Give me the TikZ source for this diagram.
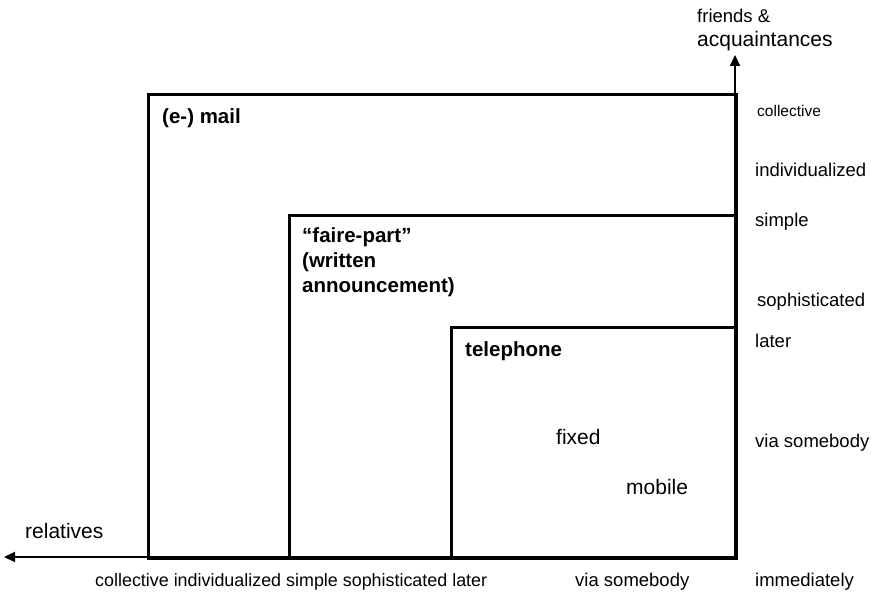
\documentclass[tikz,border=0pt]{standalone}
\usepackage{fontspec}
\setmainfont{Liberation Sans}
\usetikzlibrary{arrows.meta}
\begin{document}
\begin{tikzpicture}[x=1pt,y=-1pt,
  box/.style={draw, line width=3pt, inner sep=0pt, anchor=north west},
  axis/.style={line width=2pt, -{Triangle[length=11pt,width=10pt]}},
  lab/.style={inner sep=0pt, anchor=west, font=\fontsize{18.5}{22}\selectfont},
  botlab/.style={inner sep=0pt, anchor=west, font=\fontsize{17.9}{22}\selectfont},
  biglab/.style={inner sep=0pt, anchor=west, font=\fontsize{21}{25}\selectfont},
  smalllab/.style={inner sep=0pt, anchor=west, font=\fontsize{15.5}{19}\selectfont},
  title/.style={inner sep=0pt, anchor=north west, align=left, font=\bfseries\fontsize{20.5}{25}\selectfont}]
\useasboundingbox (0,0) rectangle (871,596);
% boxes
\node[box, minimum width=588pt, minimum height=464pt] (mail) at (147,93) {};
\node[box, minimum width=447pt, minimum height=343pt] (fp) at (288,214) {};
\node[box, minimum width=285pt, minimum height=231pt] (tel) at (450,326) {};
% axes
\coordinate (o) at (735,557);
\coordinate (top) at (735,55);
\coordinate (left) at (4,557);
\draw[axis] (o) -- (top);
\draw[axis] (o) -- (left);
% box titles
\node[title] (tmail) at (162,108) {(e-) mail};
\node[title] (tfp) at (302,227) {“faire-part”\\(written\\announcement)};
\node[title] (ttel) at (465,341) {telephone};
\node[biglab] (fixed) at (556,437) {fixed};
\node[biglab] (mobile) at (626,487) {mobile};
% axis titles
\node[lab] (friends) at (697,16) {friends \&};
\node[biglab] (acq) at (697,41) {acquaintances};
\node[biglab] (rel) at (25,531) {relatives};
% right labels
\node[smalllab] (r1) at (757,111) {collective};
\node[lab] (r2) at (755,170) {individualized};
\node[lab] (r3) at (755,222) {simple};
\node[lab] (r4) at (757,302) {sophisticated};
\node[lab] (r5) at (755,341) {later};
\node[lab] (r6) at (755,443) {via somebody};
% bottom labels
\node[botlab] (b1) at (95,582) {collective individualized simple sophisticated later};
\node[lab] (b2) at (575,582) {via somebody};
\node[lab] (b3) at (755,582) {immediately};
\end{tikzpicture}
\end{document}
